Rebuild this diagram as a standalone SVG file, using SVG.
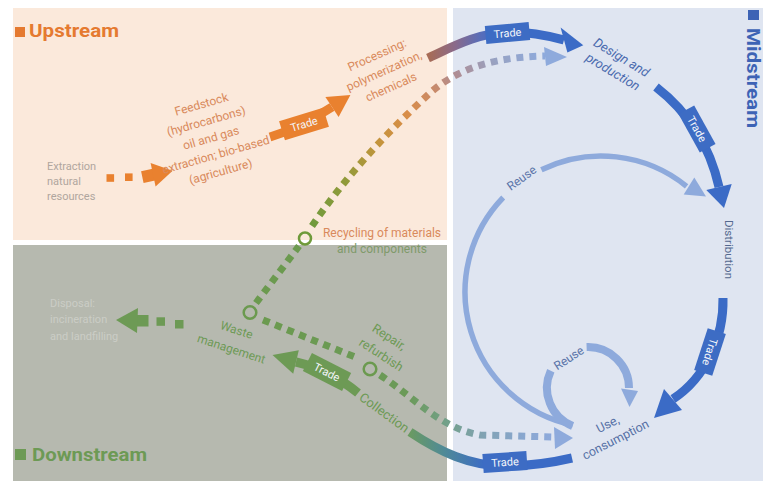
<svg xmlns="http://www.w3.org/2000/svg" width="763" height="481" viewBox="0 0 763 481">
<defs>
<style>
text{font-family:Roboto,'Liberation Sans',sans-serif}
.title{font-weight:700;font-size:18px}
.l12{font-size:12px}
.l13{font-size:12.5px}
.gray{font-size:11px}
.trade{font-size:11px;fill:#f4f6fa;text-anchor:middle}
.mid{text-anchor:middle}
.or{fill:#d98a5c}
.gr{fill:#6d9a55}
.bl{fill:#5570a5}
.dash{fill:none;stroke-width:7;stroke-dasharray:7 6}
.shaft{fill:none;stroke-width:9}
.reuse{fill:none;stroke:#8eaadc}
</style>
<linearGradient id="gRec" gradientUnits="userSpaceOnUse" x1="312" y1="228" x2="545" y2="56">
<stop offset="0" stop-color="#6f9a3c"/>
<stop offset="0.2" stop-color="#939a3a"/>
<stop offset="0.36" stop-color="#c4943c"/>
<stop offset="0.5" stop-color="#d98d48"/>
<stop offset="0.62" stop-color="#c98a68"/>
<stop offset="0.72" stop-color="#ae8e96"/>
<stop offset="0.85" stop-color="#98a2c2"/>
<stop offset="1" stop-color="#8eaadc"/>
</linearGradient>
<linearGradient id="gTradeTop" gradientUnits="userSpaceOnUse" x1="428" y1="45" x2="505" y2="45">
<stop offset="0" stop-color="#a86c55"/>
<stop offset="0.35" stop-color="#8a6a8a"/>
<stop offset="0.7" stop-color="#566dbb"/>
<stop offset="1" stop-color="#3b6bc6"/>
</linearGradient>
<linearGradient id="gUse" gradientUnits="userSpaceOnUse" x1="263" y1="380" x2="553" y2="380">
<stop offset="0" stop-color="#6b9a4f"/>
<stop offset="0.5" stop-color="#6b9a58"/>
<stop offset="0.63" stop-color="#72a088"/>
<stop offset="0.75" stop-color="#80a2b0"/>
<stop offset="0.88" stop-color="#88a6cc"/>
<stop offset="1" stop-color="#8eaadc"/>
</linearGradient>
<linearGradient id="gBot" gradientUnits="userSpaceOnUse" x1="410" y1="450" x2="485" y2="450">
<stop offset="0" stop-color="#6a9a62"/>
<stop offset="0.45" stop-color="#4f8a96"/>
<stop offset="1" stop-color="#3b6bc6"/>
</linearGradient>
</defs>

<g id="panels">
<rect x="0" y="0" width="763" height="481" fill="#ffffff"/>
<rect x="13" y="8" width="434" height="232" fill="#fbe9db"/>
<rect x="13" y="245" width="434" height="236" fill="#b6b9af"/>
<rect x="453" y="8" width="310" height="473" fill="#dfe5f1"/>
</g>

<g id="titles">
<g id="upstream-title"><rect x="15" y="27" width="10" height="10" fill="#e57a30"/><text x="29" y="37" class="title" fill="#e57a30" textLength="90" lengthAdjust="spacingAndGlyphs">Upstream</text></g>
<g id="downstream-title"><rect x="15" y="449" width="11" height="11" fill="#6d9a55"/><text x="32" y="460.5" class="title" fill="#6d9a55" textLength="115" lengthAdjust="spacingAndGlyphs">Downstream</text></g>
<g id="midstream-title"><rect x="748" y="10" width="11" height="10" fill="#3d63b5"/><text transform="translate(747,28) rotate(90)" class="title" font-size="17" fill="#3d63b5" textLength="100" lengthAdjust="spacingAndGlyphs">Midstream</text></g>
</g>

<g id="connectors">
<!-- extraction to feedstock -->
<g fill="#e9812f">
<rect x="106.5" y="174.2" width="7.6" height="7.6"/>
<rect x="125" y="173.4" width="7.6" height="7.6"/>
<g transform="translate(157,174) rotate(-12)"><rect x="-15" y="-6" width="13" height="12"/><polygon points="-4,-12 16,0 -4,12"/></g>
</g>
<!-- feedstock to processing (trade) -->
<path class="shaft" d="M270,137 Q300,128 332,107" stroke="#e9812f"/>
<polygon points="325.4,97 350.4,94.9 338.6,117" fill="#e9812f"/>
<g transform="translate(304,124) rotate(-17)"><rect x="-23" y="-10" width="46" height="20" fill="#e9812f"/><text class="trade" y="4">Trade</text></g>
<!-- processing to design (trade) -->
<path class="shaft" d="M428,58 C450,48 480,32 510,32 C535,32 553,37 564,40" stroke="url(#gTradeTop)"/>
<polygon points="560.6,27.5 583.3,45.3 567.4,52.5" fill="#3b6bc6"/>
<g transform="translate(507.5,33) rotate(-5)"><rect x="-22" y="-9" width="44" height="18" fill="#3d6cc4"/><text class="trade" y="4">Trade</text></g>
<!-- recycling dotted to design -->
<path class="dash" stroke="url(#gRec)" d="M312,226 C350,170 395,125 430,93 C460,66 500,57 545,56"/>
<polygon points="544,47 567,57 546,66" fill="#8eaadc"/>
<!-- design to distribution (trade) -->
<path class="shaft" d="M656,87 Q705,125 719,187" stroke="#3b6bc6"/>
<polygon points="706.3,190 731.7,184 724,208" fill="#3b6bc6"/>
<g transform="translate(697,129) rotate(61)"><rect x="-22" y="-9" width="44" height="18" fill="#3d6cc4"/><text class="trade" y="4">Trade</text></g>
<!-- distribution to use (trade) -->
<path class="shaft" d="M723,298 C724,338 705,378 673,399" stroke="#3b6bc6"/>
<polygon points="664,389 682,410 654,418" fill="#3b6bc6"/>
<g transform="translate(710,352) rotate(108)"><rect x="-22" y="-9.5" width="44" height="19" fill="#3d6cc4"/><text class="trade" y="4">Trade</text></g>
<!-- big reuse: use to distribution -->
<path class="reuse" stroke-width="5.5" d="M572.7,425 A136,136 0 0 1 503.2,197.5"/>
<path class="reuse" stroke-width="5.5" d="M541.4,169.8 A136,136 0 0 1 686.6,186.3"/>
<polygon points="694.3,177.5 706,196.6 683.7,194.5" fill="#8eaadc"/>
<!-- small reuse -->
<path class="reuse" stroke-width="8" d="M572.6,426 A41,41 0 0 1 550.8,370.7"/>
<path class="reuse" stroke-width="8" d="M586.6,347 A41,41 0 0 1 629,388"/>
<polygon points="621,388.5 638,391 629.5,407" fill="#8eaadc"/>
<!-- use to collection (trade) -->
<path class="shaft" d="M410,432 C440,452 470,466 505,466 C535,466 555,462 572,458" stroke="url(#gBot)"/>
<g transform="translate(505,462) rotate(-4)"><rect x="-22" y="-9.5" width="44" height="19" fill="#3d6cc4"/><text class="trade" y="4">Trade</text></g>
<!-- collection to waste management (trade) -->
<path class="shaft" d="M358,393 Q330,370 296,362" stroke="#6d9a55"/>
<polygon points="298.8,350.3 272.5,355 293.2,373.7" fill="#6d9a55"/>
<g transform="translate(327,372) rotate(27)"><rect x="-22" y="-10" width="44" height="20" fill="#6d9a55"/><text class="trade" y="4">Trade</text></g>
<!-- waste to recycling -->
<path class="dash" stroke="#6b9a4f" d="M256,303 L299,246"/>
<!-- waste to repair to use -->
<path class="dash" stroke="url(#gUse)" d="M263,320 L355,357"/>
<path class="dash" stroke="url(#gUse)" d="M380,375 C415,398 440,428 480,435 L553,437"/>
<polygon points="554,427 573,438 555,449" fill="#8eaadc"/>
<!-- waste to disposal -->
<g fill="#6d9a55">
<rect x="156.5" y="317.3" width="8.5" height="8.5"/>
<rect x="175" y="320" width="8.5" height="8.5"/>
<rect x="136" y="315" width="12.5" height="11.5"/>
<polygon points="138,308 116,320 137,333"/>
</g>
</g>

<g id="node-extraction"><text class="gray" fill="#b0a69e"><tspan x="47" y="169.5">Extraction</tspan><tspan x="47" y="184.5">natural</tspan><tspan x="47" y="199.5">resources</tspan></text></g>

<g id="node-feedstock"><text class="l12 or mid" transform="translate(211,138) rotate(-16)"><tspan x="0" y="-31">Feedstock</tspan><tspan x="0" y="-13.5">(hydrocarbons)</tspan><tspan x="0" y="4">oil and gas</tspan><tspan x="0" y="21.5">extraction; bio-based</tspan><tspan x="0" y="39">(agriculture)</tspan></text></g>

<g id="node-processing"><text class="l12 or mid" transform="translate(384,71) rotate(-24)"><tspan x="0" y="-13.5">Processing:</tspan><tspan x="0" y="4">polymerization,</tspan><tspan x="0" y="21.5">chemicals</tspan></text></g>

<g id="node-design"><text class="mid" font-size="13" font-style="italic" fill="#4a6aae" transform="translate(617,65) rotate(31)"><tspan x="0" y="-4.4">Design and</tspan><tspan x="0" y="12.4">production</tspan></text></g>

<g id="node-distribution"><text font-size="11.5" fill="#55698f" transform="translate(725,220) rotate(90)">Distribution</text></g>

<g id="node-use"><text class="l13 bl mid" transform="translate(611.7,432) rotate(-27)"><tspan x="0" y="-4.6">Use,</tspan><tspan x="0" y="12.7">consumption</tspan></text></g>

<g id="node-reuse-big"><text class="l12 mid" fill="#5a74a8" transform="translate(524,181.3) rotate(-36)">Reuse</text></g>
<g id="node-reuse-small"><text class="l12 mid" fill="#5a74a8" transform="translate(571,361.5) rotate(-33)">Reuse</text></g>

<g id="node-recycling">
<circle cx="305" cy="238.5" r="6" fill="none" stroke="#6f9a3a" stroke-width="2.5"/>
<text class="l12 mid or" x="382" y="236.5">Recycling of materials</text>
<text class="l12 mid" fill="#7f9a6a" x="382" y="253">and components</text>
</g>

<g id="node-waste">
<circle cx="250" cy="312.5" r="6.3" fill="none" stroke="#6b9a4f" stroke-width="2.5"/>
<text class="l12 gr mid" transform="translate(234,339.5) rotate(18)"><tspan x="-0.5" y="-5.8">Waste</tspan><tspan x="0.5" y="13.8">management</tspan></text>
</g>

<g id="node-repair">
<circle cx="370" cy="369" r="6.3" fill="none" stroke="#6b9a4f" stroke-width="2.5"/>
<text class="l13 gr mid" transform="translate(385,346) rotate(33)"><tspan x="-1.5" y="-5.5">Repair,</tspan><tspan x="1.5" y="13.5">refurbish</tspan></text>
</g>

<g id="node-collection"><text class="gr mid" font-size="13" transform="translate(384,413) rotate(36)" y="4">Collection</text></g>

<g id="node-disposal"><text class="gray" fill="#cbcdc6"><tspan x="50" y="306.5">Disposal:</tspan><tspan x="50" y="323">incineration</tspan><tspan x="50" y="340">and landfilling</tspan></text></g>
</svg>
